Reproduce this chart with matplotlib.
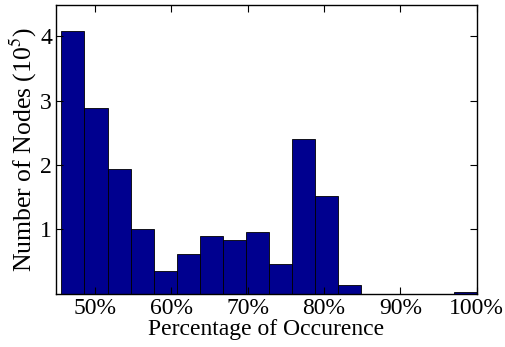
import numpy as np
import matplotlib
matplotlib.use("Agg")
import matplotlib.pyplot as plt

plt.rcParams["font.family"] = ["Liberation Serif", "DejaVu Serif"]
plt.rcParams["mathtext.fontset"] = "stix"

# histogram of occurrence percentage (18 bins from ~45.6% to 100%)
bin_lo = 45.6
bin_hi = 100.0
counts = [4.09, 2.89, 1.94, 1.00, 0.35, 0.61, 0.89, 0.83, 0.96,
          0.46, 2.41, 1.52, 0.13, 0.0, 0.0, 0.0, 0.0, 0.02]
xticks = [50, 60, 70, 80, 90, 100]
xticklabels = ["50%", "60%", "70%", "80%", "90%", "100%"]
yticks = [1, 2, 3, 4]

edges = np.linspace(bin_lo, bin_hi, len(counts) + 1)

fig = plt.figure(figsize=(5.05, 3.47), dpi=100)
ax = fig.add_axes([0.111, 0.154, 0.833, 0.832])

ax.bar(edges[:-1], counts, width=np.diff(edges), align="edge",
       color="#00008f", edgecolor="black", linewidth=0.6)

ax.set_xlim(44.9, 100)
ax.set_ylim(0, 4.49)
ax.set_xticks(xticks)
ax.set_xticklabels(xticklabels)
ax.set_yticks(yticks)
ax.tick_params(direction="in", top=True, right=True, length=5, width=0.8,
               labelsize=17, pad=3)
for s in ax.spines.values():
    s.set_linewidth(1.0)

ax.set_xlabel("Percentage of Occurence", fontsize=17, labelpad=0)
ax.set_ylabel("Number of Nodes (10$^5$)", fontsize=18.5, labelpad=1)

fig.savefig("out.png", dpi=100)
